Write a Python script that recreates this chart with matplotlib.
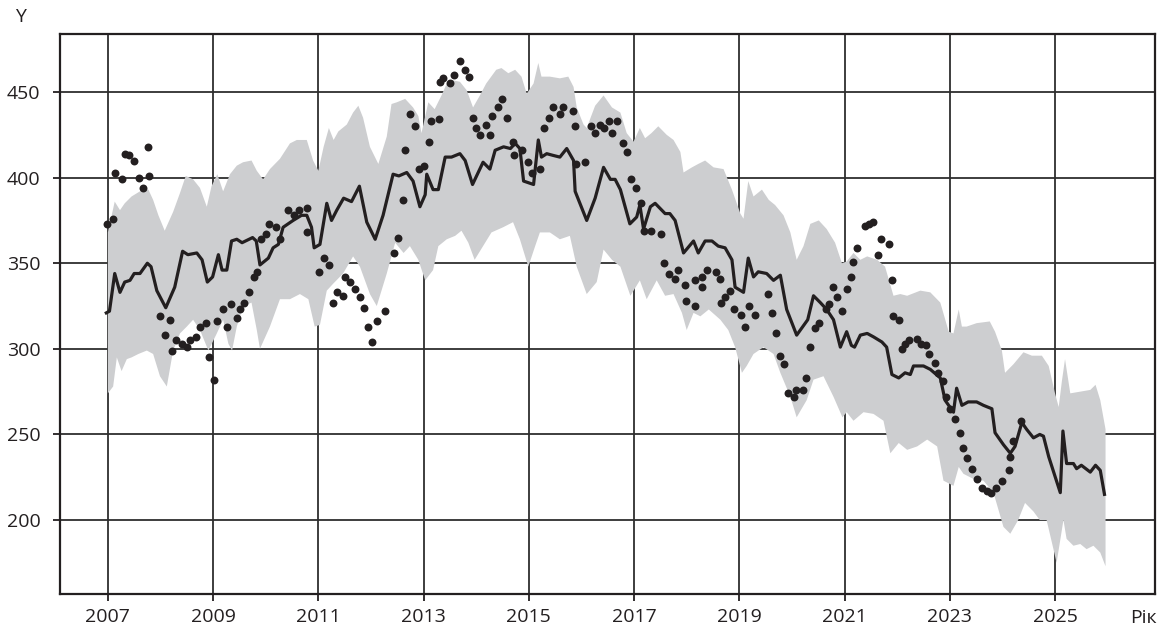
import matplotlib
matplotlib.use("Agg")
import matplotlib.pyplot as plt
import numpy as np

plt.rcParams['font.family'] = ['Open Sans', 'DejaVu Sans']

INK = '#231f20'
BAND = '#cdced0'

# model line (decimal year, value)
line_x = [2006.97, 2007.03, 2007.13, 2007.23, 2007.32, 2007.42, 2007.50, 2007.61, 2007.75, 2007.82,
          2007.93, 2008.10, 2008.27, 2008.42, 2008.52, 2008.69, 2008.79, 2008.89, 2008.99, 2009.10,
          2009.17, 2009.26, 2009.35, 2009.45, 2009.55, 2009.75, 2009.82, 2009.89, 2010.05, 2010.14,
          2010.24, 2010.33, 2010.52, 2010.68, 2010.78, 2010.87, 2010.92, 2011.03, 2011.16, 2011.25,
          2011.35, 2011.48, 2011.63, 2011.78, 2011.92, 2012.08, 2012.23, 2012.42, 2012.53, 2012.68,
          2012.80, 2012.93, 2013.03, 2013.06, 2013.18, 2013.28, 2013.41, 2013.53, 2013.69, 2013.79,
          2013.93, 2014.13, 2014.26, 2014.36, 2014.52, 2014.65, 2014.74, 2014.83, 2014.90, 2015.09,
          2015.18, 2015.24, 2015.34, 2015.46, 2015.59, 2015.72, 2015.85, 2015.88, 2016.10, 2016.26,
          2016.42, 2016.55, 2016.64, 2016.74, 2016.92, 2017.05, 2017.11, 2017.18, 2017.31, 2017.40,
          2017.59, 2017.68, 2017.78, 2017.94, 2018.13, 2018.22, 2018.35, 2018.48, 2018.60, 2018.73,
          2018.86, 2018.92, 2019.08, 2019.17, 2019.27, 2019.36, 2019.52, 2019.65, 2019.78, 2019.90,
          2020.09, 2020.30, 2020.41, 2020.54, 2020.66, 2020.79, 2020.92, 2021.04, 2021.13, 2021.19,
          2021.30, 2021.43, 2021.55, 2021.71, 2021.80, 2021.90, 2022.03, 2022.15, 2022.25, 2022.31,
          2022.50, 2022.63, 2022.82, 2022.91, 2023.07, 2023.13, 2023.23, 2023.35, 2023.51, 2023.64,
          2023.80, 2023.86, 2024.02, 2024.15, 2024.24, 2024.37, 2024.46, 2024.59, 2024.71, 2024.78,
          2024.88, 2025.10, 2025.15, 2025.22, 2025.35, 2025.41, 2025.50, 2025.67, 2025.77, 2025.86,
          2025.94]
line_y = [321, 322, 344, 333, 339, 340, 344, 344, 350, 348,
          334, 324, 336, 357, 355, 356, 352, 339, 342, 355,
          346, 346, 363, 364, 362, 365, 363, 349, 353, 359,
          361, 371, 375, 378, 378, 371, 359, 361, 385, 375,
          381, 388, 386, 395, 374, 364, 378, 402, 401, 403,
          398, 383, 390, 402, 393, 393, 412, 412, 414, 410,
          396, 409, 405, 416, 418, 417, 420, 417, 398, 396,
          422, 412, 414, 413, 412, 417, 410, 392, 375, 388,
          406, 399, 399, 393, 373, 377, 384, 370, 383, 385,
          379, 379, 375, 356, 363, 356, 363, 363, 360, 359,
          352, 336, 333, 353, 342, 345, 344, 340, 343, 323,
          308, 317, 331, 327, 323, 317, 301, 310, 302, 301,
          308, 309, 307, 304, 301, 285, 283, 286, 285, 290,
          290, 288, 283, 270, 263, 277, 267, 269, 269, 267,
          265, 251, 244, 239, 243, 257, 253, 248, 250, 249,
          237, 216, 252, 233, 233, 230, 232, 228, 232, 229,
          215]

# upper edge of the gray band
up_x = [2007.00, 2007.13, 2007.23, 2007.32, 2007.45, 2007.61, 2007.77, 2007.86, 2007.96, 2008.08,
        2008.24, 2008.37, 2008.48, 2008.62, 2008.75, 2008.88, 2008.97, 2009.08, 2009.19, 2009.32,
        2009.45, 2009.57, 2009.73, 2009.83, 2009.95, 2010.08, 2010.27, 2010.46, 2010.59, 2010.78,
        2010.90, 2011.00, 2011.10, 2011.20, 2011.29, 2011.38, 2011.54, 2011.66, 2011.76, 2011.85,
        2011.98, 2012.14, 2012.30, 2012.39, 2012.49, 2012.65, 2012.80, 2012.90, 2012.96, 2013.09,
        2013.21, 2013.34, 2013.44, 2013.53, 2013.69, 2013.82, 2013.94, 2014.07, 2014.19, 2014.38,
        2014.48, 2014.61, 2014.74, 2014.86, 2014.96, 2015.09, 2015.18, 2015.24, 2015.40, 2015.59,
        2015.75, 2015.85, 2015.91, 2016.04, 2016.10, 2016.26, 2016.42, 2016.58, 2016.74, 2016.86,
        2016.99, 2017.11, 2017.21, 2017.33, 2017.46, 2017.62, 2017.75, 2017.88, 2017.94, 2018.10,
        2018.22, 2018.35, 2018.51, 2018.70, 2018.86, 2019.02, 2019.08, 2019.17, 2019.27, 2019.43,
        2019.56, 2019.68, 2019.84, 2019.97, 2020.09, 2020.22, 2020.35, 2020.51, 2020.66, 2020.82,
        2020.95, 2021.04, 2021.17, 2021.30, 2021.43, 2021.62, 2021.77, 2021.93, 2022.06, 2022.19,
        2022.44, 2022.63, 2022.82, 2022.98, 2023.07, 2023.17, 2023.23, 2023.32, 2023.51, 2023.76,
        2023.86, 2023.99, 2024.05, 2024.21, 2024.40, 2024.56, 2024.75, 2024.88, 2025.00, 2025.07,
        2025.13, 2025.19, 2025.29, 2025.48, 2025.67, 2025.77, 2025.86, 2025.96]
up_y = [368, 386, 381, 385, 389, 392, 393, 387, 378, 369,
        380, 391, 401, 399, 394, 383, 395, 402, 392, 402,
        407, 409, 410, 404, 399, 405, 411, 420, 422, 422,
        410, 404, 418, 429, 422, 427, 431, 438, 442, 435,
        418, 408, 424, 443, 444, 446, 441, 436, 426, 444,
        440, 448, 455, 457, 456, 451, 441, 448, 455, 463,
        464, 461, 463, 459, 449, 455, 467, 459, 459, 458,
        459, 453, 441, 431, 429, 442, 448, 441, 438, 426,
        421, 429, 423, 426, 430, 425, 422, 415, 403, 406,
        408, 410, 406, 405, 393, 379, 376, 398, 389, 393,
        387, 384, 378, 368, 352, 360, 373, 375, 370, 362,
        350, 351, 356, 352, 354, 352, 348, 331, 332, 331,
        334, 333, 327, 310, 309, 323, 313, 313, 315, 316,
        310, 299, 286, 291, 298, 296, 296, 290, 274, 266,
        281, 294, 274, 275, 276, 279, 270, 253]

# lower edge of the gray band
lo_x = [2007.00, 2007.10, 2007.17, 2007.26, 2007.36, 2007.45, 2007.58, 2007.74, 2007.86, 2007.99,
        2008.12, 2008.24, 2008.37, 2008.50, 2008.62, 2008.75, 2008.91, 2009.07, 2009.19, 2009.29,
        2009.36, 2009.45, 2009.57, 2009.73, 2009.83, 2009.89, 2010.08, 2010.27, 2010.46, 2010.65,
        2010.81, 2010.93, 2011.03, 2011.16, 2011.28, 2011.47, 2011.66, 2011.79, 2011.98, 2012.11,
        2012.30, 2012.46, 2012.62, 2012.74, 2012.90, 2013.03, 2013.18, 2013.28, 2013.44, 2013.60,
        2013.72, 2013.85, 2013.97, 2014.13, 2014.29, 2014.51, 2014.70, 2014.83, 2014.99, 2015.12,
        2015.21, 2015.40, 2015.59, 2015.78, 2015.91, 2016.10, 2016.29, 2016.42, 2016.58, 2016.74,
        2016.93, 2017.11, 2017.24, 2017.43, 2017.59, 2017.75, 2017.91, 2018.00, 2018.13, 2018.26,
        2018.42, 2018.64, 2018.79, 2018.92, 2019.05, 2019.14, 2019.27, 2019.46, 2019.65, 2019.78,
        2019.97, 2020.09, 2020.28, 2020.41, 2020.60, 2020.79, 2020.96, 2021.04, 2021.17, 2021.36,
        2021.55, 2021.74, 2021.87, 2022.03, 2022.19, 2022.38, 2022.57, 2022.76, 2022.88, 2023.07,
        2023.17, 2023.26, 2023.45, 2023.64, 2023.83, 2024.02, 2024.15, 2024.30, 2024.43, 2024.59,
        2024.71, 2024.84, 2024.97, 2025.03, 2025.16, 2025.22, 2025.35, 2025.48, 2025.60, 2025.73,
        2025.86, 2025.96]
lo_y = [274, 278, 295, 287, 294, 295, 297, 299, 297, 284,
        278, 299, 309, 313, 317, 311, 299, 309, 317, 303,
        299, 313, 325, 327, 311, 300, 313, 329, 329, 332,
        329, 313, 314, 334, 338, 344, 354, 348, 332, 325,
        344, 362, 356, 360, 352, 340, 346, 360, 364, 366,
        369, 362, 352, 360, 368, 371, 374, 364, 348, 360,
        368, 368, 364, 366, 348, 332, 339, 358, 352, 348,
        331, 340, 329, 340, 331, 332, 321, 311, 321, 319,
        323, 317, 311, 301, 286, 290, 297, 301, 297, 286,
        272, 260, 270, 282, 284, 272, 260, 263, 258, 263,
        262, 258, 239, 245, 241, 243, 247, 243, 223, 220,
        231, 227, 224, 223, 216, 196, 192, 200, 210, 205,
        200, 200, 183, 175, 200, 189, 185, 186, 183, 185,
        181, 173]

# observed points
dot_x = [2006.99, 2007.10, 2007.13, 2007.26, 2007.32, 2007.41, 2007.49, 2007.59, 2007.67, 2007.77,
         2007.79, 2007.99, 2008.08, 2008.18, 2008.21, 2008.29, 2008.40, 2008.51, 2008.56, 2008.67,
         2008.75, 2008.86, 2008.93, 2009.02, 2009.08, 2009.19, 2009.26, 2009.34, 2009.45, 2009.51,
         2009.59, 2009.69, 2009.78, 2009.84, 2009.91, 2010.00, 2010.06, 2010.19, 2010.27, 2010.43,
         2010.54, 2010.64, 2010.78, 2010.79, 2011.02, 2011.10, 2011.21, 2011.27, 2011.35, 2011.46,
         2011.51, 2011.61, 2011.69, 2011.79, 2011.86, 2011.95, 2012.01, 2012.11, 2012.27, 2012.43,
         2012.51, 2012.60, 2012.65, 2012.74, 2012.83, 2012.91, 2013.01, 2013.11, 2013.15, 2013.29,
         2013.31, 2013.37, 2013.51, 2013.58, 2013.69, 2013.78, 2013.86, 2013.94, 2013.99, 2014.08,
         2014.18, 2014.27, 2014.30, 2014.41, 2014.49, 2014.59, 2014.70, 2014.71, 2014.87, 2014.98,
         2015.06, 2015.21, 2015.29, 2015.38, 2015.46, 2015.59, 2015.65, 2015.84, 2015.88, 2015.90,
         2016.06, 2016.19, 2016.26, 2016.35, 2016.43, 2016.53, 2016.58, 2016.67, 2016.79, 2016.86,
         2016.95, 2017.03, 2017.13, 2017.18, 2017.33, 2017.51, 2017.57, 2017.67, 2017.77, 2017.84,
         2017.96, 2017.98, 2018.15, 2018.16, 2018.29, 2018.30, 2018.39, 2018.55, 2018.63, 2018.66,
         2018.73, 2018.82, 2018.89, 2019.03, 2019.11, 2019.18, 2019.29, 2019.54, 2019.62, 2019.70,
         2019.77, 2019.85, 2019.92, 2020.04, 2020.08, 2020.21, 2020.26, 2020.35, 2020.43, 2020.51,
         2020.65, 2020.71, 2020.78, 2020.86, 2020.95, 2021.04, 2021.12, 2021.17, 2021.24, 2021.38,
         2021.46, 2021.55, 2021.63, 2021.69, 2021.84, 2021.90, 2021.93, 2022.03, 2022.09, 2022.14,
         2022.23, 2022.37, 2022.46, 2022.55, 2022.61, 2022.71, 2022.78, 2022.88, 2022.93, 2023.00,
         2023.10, 2023.19, 2023.26, 2023.32, 2023.43, 2023.51, 2023.61, 2023.70, 2023.78, 2023.87,
         2024.00, 2024.13, 2024.15, 2024.20, 2024.36]
dot_y = [373, 376, 403, 399, 414, 413, 410, 400, 394, 418,
         401, 319, 308, 317, 299, 305, 303, 301, 305, 307,
         313, 315, 295, 282, 316, 323, 313, 326, 318, 323,
         327, 333, 342, 345, 364, 367, 373, 371, 364, 381,
         378, 381, 382, 368, 345, 353, 349, 327, 333, 331,
         342, 339, 335, 330, 324, 313, 304, 316, 322, 356,
         365, 387, 416, 437, 430, 405, 407, 421, 433, 434,
         456, 458, 455, 460, 468, 463, 459, 435, 429, 425,
         431, 425, 436, 441, 446, 435, 421, 413, 416, 409,
         403, 405, 429, 435, 441, 437, 441, 439, 430, 408,
         409, 430, 426, 431, 429, 433, 426, 433, 420, 415,
         399, 394, 385, 369, 369, 367, 350, 344, 341, 346,
         337, 328, 325, 340, 336, 342, 346, 345, 341, 327,
         330, 334, 323, 320, 313, 325, 320, 332, 321, 309,
         296, 291, 274, 272, 276, 276, 283, 301, 312, 315,
         323, 326, 336, 330, 322, 335, 342, 351, 359, 372,
         373, 374, 355, 364, 361, 340, 319, 317, 300, 303,
         305, 306, 303, 302, 297, 292, 286, 281, 272, 265,
         259, 251, 242, 236, 230, 224, 219, 217, 216, 219,
         223, 229, 237, 246, 258]

x_ticks = [2007, 2009, 2011, 2013, 2015, 2017, 2019, 2021, 2023, 2025]
y_ticks = [200, 250, 300, 350, 400, 450]

fig = plt.figure(figsize=(11.63, 6.33), dpi=100)
ax = fig.add_axes([60 / 1163, 1 - 594 / 633, 1095 / 1163, 560 / 633])

ax.fill(np.r_[up_x, lo_x[::-1]], np.r_[up_y, lo_y[::-1]], color=BAND, lw=0, zorder=1)
ax.plot(line_x, line_y, color=INK, lw=2.3, zorder=3)
ax.plot(dot_x, dot_y, 'o', ms=5.7, color=INK, mec='none', zorder=4)

ax.set_xlim(2006.09, 2026.9)
ax.set_ylim(156.8, 483.9)
ax.set_xticks(x_ticks)
ax.set_yticks(y_ticks)
ax.set_axisbelow(True)
ax.grid(True, color='#2e2e2e', lw=1.3)

for s in ax.spines.values():
    s.set_color(INK)
    s.set_linewidth(1.6)
ax.tick_params(axis='both', direction='out', length=5, width=1.3, color=INK,
               labelsize=14, labelcolor=INK)
ax.tick_params(axis='y', pad=9)
ax.tick_params(axis='x', pad=5)

fig.text(20 / 1163, 1 - 17 / 633, 'Y', ha='center', va='center', fontsize=14, color=INK)
fig.text(1157 / 1163, 1 - 618 / 633, 'Рік', ha='right', va='center', fontsize=14, color=INK)

fig.savefig('out.png', dpi=100)
